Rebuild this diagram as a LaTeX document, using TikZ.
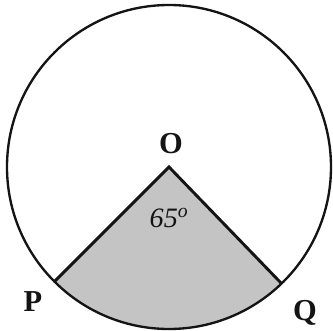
\documentclass[tikz,border=0pt]{standalone}
\usepackage{fontspec}
\setmainfont{Liberation Serif}
\usepackage{tikz}
\usetikzlibrary{calc}
\definecolor{inkblack}{RGB}{20,20,20}
\definecolor{sectorgrey}{RGB}{196,196,196}
\tikzset{
  rimline/.style={draw=inkblack,line width=2pt},
  edgeline/.style={draw=inkblack,line width=2.5pt},
  ptfont/.style={font=\fontsize{26}{28}\selectfont\bfseries,text=inkblack},
  angfont/.style={font=\fontsize{24}{26}\selectfont\itshape,text=inkblack},
}

\begin{document}
\begin{tikzpicture}[x=0.3mm,y=0.3mm]
        \useasboundingbox (0,0) rectangle (333,330);
        \coordinate (O) at (169,163);
        \coordinate (P) at ($(O)+(225:162)$);
        \coordinate (Q) at ($(O)+(314:162)$);
        \fill[sectorgrey] (O) -- (P) arc[start angle=225,end angle=314,radius=162] -- cycle;
        \draw[rimline] (O) circle[radius=162];
        \draw[edgeline] (P) -- (O) -- (Q);
        \node[ptfont] (lblO) at (171,186) {O};
        \node[angfont] (lblang) at (169,112) {65\textsuperscript{o}};
        \node[ptfont] (lblP) at (33,28) {P};
        \node[ptfont] (lblQ) at (305,17) {Q};
      \end{tikzpicture}
\end{document}
